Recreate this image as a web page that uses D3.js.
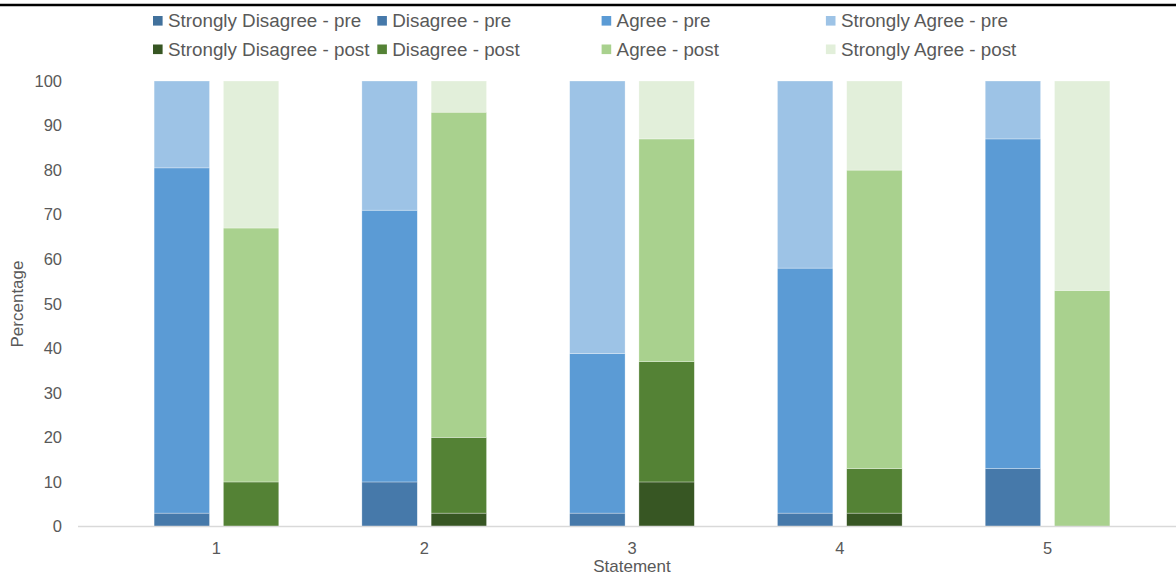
<!DOCTYPE html>
<html>
<head>
<meta charset="utf-8">
<script src="https://cdn.jsdelivr.net/npm/d3@7"></script>
<style>
  body { margin: 0; background: #fff; }
  svg { display: block; font-family: "Liberation Sans", Arial, sans-serif; }
  .tick text { fill: #595959; font-size: 16.5px; }
  .legend text { fill: #595959; font-size: 18.8px; }
  .label { fill: #595959; font-size: 17px; }
</style>
</head>
<body>
<svg width="1176" height="577"></svg>
<script>
const statements = ['1', '2', '3', '4', '5'];
const phases = ['pre', 'post'];
const levels = ['Strongly Disagree', 'Disagree', 'Agree', 'Strongly Agree'];
const yTicks = [0, 10, 20, 30, 40, 50, 60, 70, 80, 90, 100];

// percentages per statement
const stronglyDisagreePre = [0, 0, 0, 0, 0];
const disagreePre = [3, 10, 3, 3, 13];
const agreePre = [77.5, 61, 35.8, 55, 74];
const stronglyAgreePre = [19.5, 29, 61.2, 42, 13];

const stronglyDisagreePost = [0, 3, 10, 3, 0];
const disagreePost = [10, 17, 27, 10, 0];
const agreePost = [57, 73, 50, 67, 53];
const stronglyAgreePost = [33, 7, 13, 20, 47];

const preColors = ['#41719C', '#4679AA', '#5B9BD5', '#9DC3E6'];
const postColors = ['#375623', '#548235', '#A9D18E', '#E2EFDA'];

const seriesByPhase = {
  pre: [stronglyDisagreePre, disagreePre, agreePre, stronglyAgreePre],
  post: [stronglyDisagreePost, disagreePost, agreePost, stronglyAgreePost]
};
const colorByPhase = { pre: preColors, post: postColors };

const svg = d3.select('svg');

// thin black rule along the top
svg.append('line')
  .attr('x1', 0).attr('x2', 1176)
  .attr('y1', 5).attr('y2', 5)
  .attr('stroke', '#000')
  .attr('stroke-width', 2.5);

const y = d3.scaleLinear()
  .domain([0, 100])
  .range([526.5, 81]);

const x0 = d3.scaleBand()
  .domain(statements)
  .range([71, 1193])
  .paddingInner(0.4)
  .paddingOuter(0.4);

const x1 = d3.scaleBand()
  .domain(phases)
  .range([0, x0.bandwidth()])
  .paddingInner(0.2);

phases.forEach(phase => {
  const rows = statements.map((s, i) => {
    const row = { statement: s };
    levels.forEach((lv, k) => { row[lv] = seriesByPhase[phase][k][i]; });
    return row;
  });
  const stacked = d3.stack().keys(levels)(rows);
  const color = d3.scaleOrdinal().domain(levels).range(colorByPhase[phase]);

  svg.append('g')
    .selectAll('g')
    .data(stacked)
    .enter()
    .append('g')
    .attr('fill', d => color(d.key))
    .selectAll('rect')
    .data(d => d)
    .enter()
    .append('rect')
    .attr('x', d => x0(d.data.statement) + x1(phase))
    .attr('y', d => y(d[1]))
    .attr('width', x1.bandwidth())
    .attr('height', d => y(d[0]) - y(d[1]))
    .attr('stroke', '#fff')
    .attr('stroke-opacity', 0.5)
    .attr('stroke-width', 0.6);
});

// baseline
svg.append('line')
  .attr('x1', 78).attr('x2', 1176)
  .attr('y1', y(0)).attr('y2', y(0))
  .attr('stroke', '#d9d9d9')
  .attr('stroke-width', 1.5);

svg.append('g')
  .attr('transform', 'translate(62,0)')
  .call(d3.axisLeft(y).tickValues(yTicks).tickSize(0).tickPadding(0))
  .call(g => g.select('.domain').remove())
  .selectAll('text')
  .attr('font-family', null)
  .attr('font-size', null);

svg.append('g')
  .attr('transform', `translate(0, ${y(0)})`)
  .call(d3.axisBottom(x0).tickSize(0).tickPadding(15.3))
  .call(g => g.select('.domain').remove())
  .selectAll('text')
  .attr('font-family', null)
  .attr('font-size', null);

svg.append('text')
  .attr('class', 'label')
  .attr('transform', 'translate(23, 304) rotate(-90)')
  .attr('text-anchor', 'middle')
  .text('Percentage');

svg.append('text')
  .attr('class', 'label')
  .attr('x', 632)
  .attr('y', 572)
  .attr('text-anchor', 'middle')
  .text('Statement');

// legend: pre items on the first row, post items on the second
const legend = svg.append('g').attr('class', 'legend');
phases.forEach((phase, r) => {
  levels.forEach((lv, k) => {
    const item = legend.append('g')
      .attr('transform', `translate(${153 + k * 224.3}, ${20.8 + r * 28.5})`);
    item.append('rect')
      .attr('x', 0).attr('y', -4.8)
      .attr('width', 9.6).attr('height', 9.6)
      .attr('fill', colorByPhase[phase][k]);
    item.append('text')
      .attr('x', 15)
      .attr('y', 6.6)
      .text(`${lv} - ${phase}`);
  });
});
</script>
</body>
</html>
